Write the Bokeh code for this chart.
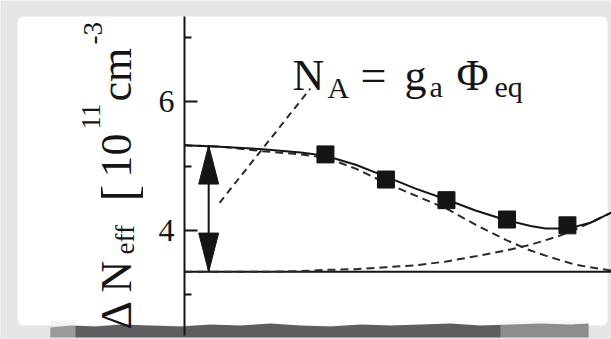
import math

from bokeh.plotting import figure
from bokeh.models import FixedTicker, Label, BoxAnnotation, PolyAnnotation
from bokeh.embed import file_html
from bokeh.resources import INLINE

# Annealing time, log10 scale (arbitrary origin)
meas_logt = [1.0, 2.0, 3.0, 4.0, 5.0]
meas_dneff = [5.18, 4.79, 4.47, 4.17, 4.08]

# Model curves sampled along the time axis
fit_logt = [-1.33, -0.74, -0.04, 0.59, 1.00, 1.50, 1.99, 2.49, 3.00,
            3.48, 3.99, 4.39, 4.64, 4.88, 5.13, 5.38, 5.73]
fit_total = [5.32, 5.30, 5.26, 5.21, 5.16, 5.02, 4.84, 4.65, 4.48,
             4.31, 4.16, 4.07, 4.03, 4.03, 4.06, 4.12, 4.28]
fit_beneficial = [5.32, 5.30, 5.23, 5.18, 5.13, 4.96, 4.74, 4.54, 4.34,
                  4.09, 3.85, 3.69, 3.61, 3.54, 3.47, 3.43, 3.38]
fit_reverse = [3.36, 3.36, 3.36, 3.37, 3.39, 3.40, 3.43, 3.46, 3.52,
               3.60, 3.69, 3.78, 3.85, 3.92, 4.02, 4.12, 4.28]

stable_level = 3.36      # N_C
amplitude_top = 5.32     # N_C + N_A
arrow_logt = -0.93
leader_logt = [-0.75, 0.75]
leader_dneff = [4.43, 6.20]

y_major = [4, 6]
y_minor = [3, 5, 7]

t_axis = -1.33           # where the ΔN_eff axis stands
t_end = 5.73
y_axis_span = (2.372, 7.318)

PAPER = "#e6e6e6"
INK = "#151515"
SERIF = "Liberation Serif"

p = figure(width=611, height=339,
           x_range=(-4.371, 5.728), y_range=(2.310, 7.566),
           x_axis_type=None, output_backend="svg", toolbar_location=None,
           min_border_left=0, min_border_right=0,
           min_border_top=0, min_border_bottom=0,
           border_fill_color=PAPER, background_fill_color=PAPER,
           outline_line_color=None)
p.ygrid.visible = False


def canvas_box(left, right, top, bottom, **kw):
    p.add_layout(BoxAnnotation(left=left, right=right, top=top, bottom=bottom,
                               left_units="canvas", right_units="canvas",
                               top_units="canvas", bottom_units="canvas",
                               line_color=None, level="underlay", **kw))


# white sheet and the torn lower edge
canvas_box(17, 607, 16, 325, fill_color="white", fill_alpha=1.0, border_radius=6)
edge_x = [50, 70, 95, 120, 150, 180, 210, 240, 270, 300, 330, 360, 390,
          420, 450, 480, 510, 540, 570, 588, 588, 50]
edge_y = [327, 325, 326, 324, 325, 326, 324, 325, 323, 325, 326, 324, 325,
          324, 323, 325, 324, 323, 324, 323, 337, 337]
p.add_layout(PolyAnnotation(xs=edge_x, ys=edge_y, xs_units="canvas", ys_units="canvas",
                            fill_color="#5e5e5e", fill_alpha=1.0, line_color=None,
                            level="underlay"))
canvas_box(50, 75, 320, 338, fill_color=PAPER, fill_alpha=0.45)
canvas_box(500, 588, 320, 338, fill_color=PAPER, fill_alpha=0.35)

# stable damage level
p.line([t_axis, t_end], [stable_level, stable_level], line_color=INK, line_width=2)

# model components and total
p.line(fit_logt, fit_beneficial, line_color="#2a2a2a", line_width=2, line_dash="8 5")
p.line(fit_logt, fit_reverse, line_color="#2a2a2a", line_width=2, line_dash="8 5")
p.line(fit_logt, fit_total, line_color=INK, line_width=2)

# leader from the formula to the amplitude arrow
p.line(leader_logt, leader_dneff, line_color="#2a2a2a", line_width=2, line_dash="7 5")

# double arrow spanning N_A
head_len = 0.6
head_half = 0.165
p.segment(x0=[arrow_logt], y0=[stable_level], x1=[arrow_logt], y1=[amplitude_top],
          line_color=INK, line_width=2)
p.patches(xs=[[arrow_logt - head_half, arrow_logt + head_half, arrow_logt],
              [arrow_logt - head_half, arrow_logt + head_half, arrow_logt]],
          ys=[[amplitude_top - head_len, amplitude_top - head_len, amplitude_top],
              [stable_level + head_len, stable_level + head_len, stable_level]],
          fill_color=INK, line_color=INK)

# measured points
p.scatter(meas_logt, meas_dneff, marker="square", size=17,
          fill_color=INK, line_color=INK)

# y axis, standing inside the sheet
yax = p.yaxis[0]
yax.fixed_location = t_axis
yax.bounds = y_axis_span
yax.ticker = FixedTicker(ticks=y_major, minor_ticks=y_minor)
yax.axis_line_width = 2
yax.axis_line_color = INK
yax.major_tick_in = 13
yax.major_tick_out = 0
yax.minor_tick_in = 7
yax.minor_tick_out = 0
yax.major_tick_line_width = 2
yax.minor_tick_line_width = 2
yax.major_tick_line_color = INK
yax.minor_tick_line_color = INK
yax.major_label_text_font = SERIF
yax.major_label_text_font_size = "32px"
yax.major_label_text_color = INK
yax.major_label_standoff = 10


def add_text(text, x, y, size, angle=0.0):
    p.add_layout(Label(x=x, y=y, x_units="canvas", y_units="canvas", text=text,
                       text_font=SERIF, text_font_size=f"{size}px", text_color=INK,
                       text_align="left", text_baseline="alphabetic", angle=angle))


# rotated axis title:  ΔN_eff [10^11 cm^-3]
up = math.pi / 2
add_text("Δ", 116, 329, 44, up)
add_text("N", 116, 292, 44, up)
add_text("eff", 124, 254, 27, up)
add_text("[", 118, 201, 50, up)
add_text("10", 116, 177, 44, up)
add_text("11", 90, 129, 27, up)
add_text("cm", 116, 101, 44, up)
add_text("-3", 92, 44, 27, up)

# formula: N_A = g_a Φ_eq
add_text("N", 292, 75, 44)
add_text("A", 327, 87, 30)
add_text("=", 360, 75, 46)
add_text("g", 404, 75, 44)
add_text("a", 429, 86, 30)
add_text("Φ", 456, 75, 44)
add_text("eq", 494, 86, 30)

open("out.html", "w").write(file_html(p, INLINE))
